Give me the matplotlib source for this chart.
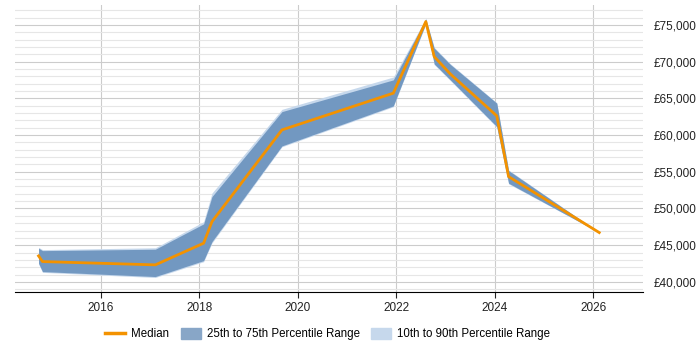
import matplotlib
matplotlib.use("Agg")
import matplotlib.pyplot as plt
from matplotlib.patches import Patch
from matplotlib.lines import Line2D
from matplotlib.ticker import MultipleLocator, FuncFormatter

plt.rcParams['font.family'] = ['Liberation Sans', 'DejaVu Sans']

years = [2014.74, 2014.82, 2017.11, 2018.09, 2018.26, 2019.68, 2021.94, 2022.60, 2022.77, 2023.10, 2024.04, 2024.28, 2026.12]
median = [43540, 42770, 42320, 45270, 48210, 60700, 65700, 75450, 70680, 68300, 62610, 54340, 46720]
p25 = [42550, 41410, 40730, 42900, 45490, 58520, 63970, 75200, 69690, 67500, 61150, 53440, 46720]
p75 = [44590, 44260, 44450, 47900, 51620, 63190, 67510, 75780, 71830, 69600, 64340, 55160, 46720]
p10 = [42450, 41300, 40600, 42750, 45300, 58400, 63850, 75100, 69600, 67400, 61050, 53350, 46720]
p90 = [44700, 44400, 44650, 48200, 52100, 63500, 67900, 75900, 71950, 69700, 64400, 55250, 46720]

fig = plt.figure(figsize=(7, 3.5), dpi=100)
ax = fig.add_axes([0.022, 0.166, 0.896, 0.82])

c_med = '#f39200'
c_iqr = '#7298c1'
c_dec = '#c6d8ec'

ax.fill_between(years, p10, p90, color=c_dec, lw=0, zorder=2)
ax.fill_between(years, p25, p75, color=c_iqr, lw=0, zorder=3)
ax.plot(years, median, color=c_med, lw=2, zorder=4)

ax.set_xlim(2014.27, 2027.0)
ax.set_ylim(38640, 77720)
ax.xaxis.set_major_locator(MultipleLocator(2))
ax.yaxis.set_major_locator(MultipleLocator(5000))
ax.yaxis.set_minor_locator(MultipleLocator(1000))
ax.yaxis.set_major_formatter(FuncFormatter(lambda v, p: f"£{int(v):,}"))
ax.xaxis.set_major_formatter(FuncFormatter(lambda v, p: f"{int(round(v))}"))
ax.yaxis.tick_right()
ax.grid(axis='y', which='major', color='#cccccc', lw=0.8, zorder=0)
ax.grid(axis='y', which='minor', color='#e6e6e6', lw=0.8, zorder=0)
ax.grid(axis='x', which='major', color='#cccccc', lw=0.8, zorder=0)
ax.set_axisbelow(True)
for s in ['left', 'right', 'top']:
    ax.spines[s].set_visible(False)
ax.spines['bottom'].set_color('#000000')
ax.tick_params(axis='y', which='both', length=0, labelsize=8.5, colors='#222222', pad=8)
ax.tick_params(axis='x', length=4, labelsize=8.5, colors='#222222')

handles = [Line2D([0], [0], color=c_med, lw=2.5),
           Patch(color='#88a6c7'),
           Patch(color=c_dec)]
labels = ['Median', '25th to 75th Percentile Range', '10th to 90th Percentile Range']
fig.legend(handles, labels, loc='center', bbox_to_anchor=(0.468, 0.045), ncol=3,
           frameon=False, fontsize=8.3, handlelength=1.75, handleheight=1.1,
           columnspacing=1.0, handletextpad=0.5)

fig.savefig('out.png', dpi=100)
